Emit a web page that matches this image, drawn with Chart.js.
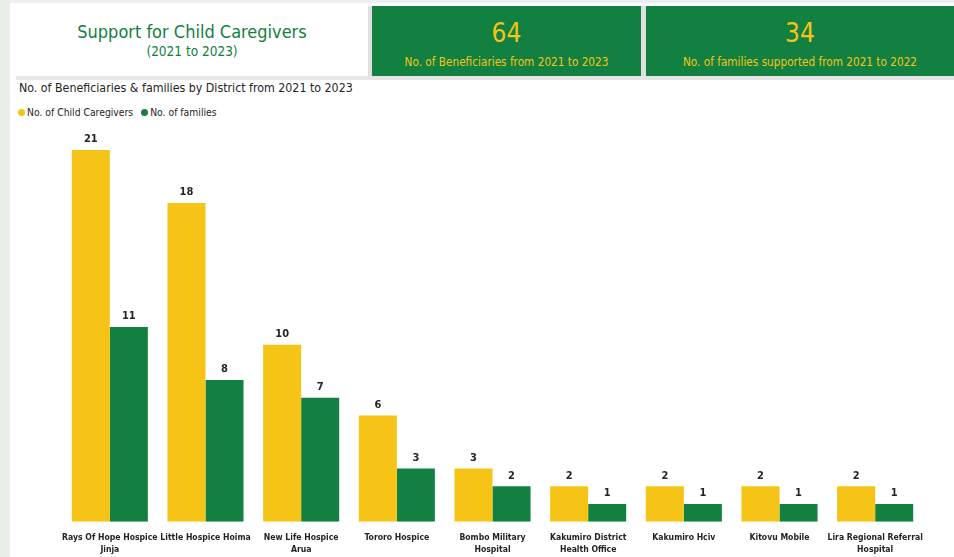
<!DOCTYPE html>
<html><head><meta charset="utf-8">
<script src="https://cdn.jsdelivr.net/npm/chart.js@4.4.1/dist/chart.umd.min.js"></script>
<style>
html,body{margin:0;padding:0;width:954px;height:557px;overflow:hidden;background:#e8eee8;font-family:"DejaVu Sans Condensed","Roboto",sans-serif;}
#panel{position:absolute;left:10px;top:0;width:944px;height:557px;background:#fff;}
#topline{position:absolute;left:10px;top:0;width:944px;height:3px;background:#eeeeee;}
#hdrline{position:absolute;left:16px;top:76px;width:938px;height:4px;background:#e6e6e6;}
#titlebox{position:absolute;left:16px;top:6px;width:352px;height:70px;background:#fff;color:#118040;text-align:center;}
#sep{position:absolute;left:368px;top:6px;width:4px;height:70px;background:#e0e0e0;}
#t1{position:absolute;top:15px;width:100%;font-size:18px;}
#t2{position:absolute;top:37px;width:100%;font-size:13.5px;}
.kpi{position:absolute;top:6px;height:70px;background:#118040;color:#f6c416;text-align:center;}
.kpi .v{position:absolute;top:12px;width:100%;font-size:26px;}
.kpi .l{position:absolute;top:49px;width:100%;font-size:11.7px;}
#gap{position:absolute;left:641px;top:6px;width:5px;height:70px;background:#e0e0e0;}
#sub{position:absolute;left:19px;top:81px;font-size:12.3px;color:#252423;}
#legend{position:absolute;left:18px;top:106px;font-size:10.3px;color:#252423;}
#legend span.d{display:inline-block;width:7px;height:7px;border-radius:50%;margin-right:2px;vertical-align:0px;}
#legend span.i{margin-right:8px;}
#wrap{position:absolute;left:10px;top:117px;width:944px;height:441px;}
</style></head><body>
<div id="panel"></div>
<div id="topline"></div>
<div id="titlebox"><div id="t1">Support for Child Caregivers</div><div id="t2">(2021 to 2023)</div></div>
<div id="sep"></div>
<div class="kpi" style="left:372px;width:269px;"><div class="v">64</div><div class="l">No. of Beneficiaries from 2021 to 2023</div></div>
<div id="gap"></div>
<div class="kpi" style="left:646px;width:308px;"><div class="v">34</div><div class="l">No. of families supported from 2021 to 2022</div></div>
<div id="hdrline"></div>
<div id="sub">No. of Beneficiaries &amp; families by District from 2021 to 2023</div>
<div id="legend"></div>
<div id="wrap"><canvas id="c"></canvas></div>
<script>
const categories = [
  ["Rays Of Hope Hospice","Jinja"],
  "Little Hospice Hoima",
  ["New Life Hospice","Arua"],
  "Tororo Hospice",
  ["Bombo Military","Hospital"],
  ["Kakumiro District","Health Office"],
  "Kakumiro Hciv",
  "Kitovu Mobile",
  ["Lira Regional Referral","Hospital"]
];
const seriesNames = ['No. of Child Caregivers', 'No. of families'];
const caregivers = [21, 18, 10, 6, 3, 2, 2, 2, 2];
const families = [11, 8, 7, 3, 2, 1, 1, 1, 1];
const colors = ['#f6c416', '#118040'];

const valueLabels = {
  id: 'valueLabels',
  afterDatasetsDraw(chart) {
    const ctx = chart.ctx;
    ctx.save();
    ctx.font = 'bold 11px "DejaVu Sans Condensed", sans-serif';
    ctx.fillStyle = '#252423';
    ctx.textAlign = 'center';
    ctx.textBaseline = 'bottom';
    chart.data.datasets.forEach((ds, i) => {
      chart.getDatasetMeta(i).data.forEach((bar, j) => {
        ctx.fillText(ds.data[j], bar.x, bar.y - 5);
      });
    });
    ctx.restore();
  }
};

const chart = new Chart(document.getElementById('c'), {
  type: 'bar',
  data: {
    labels: categories,
    datasets: [
      {label: seriesNames[0], data: caregivers, backgroundColor: colors[0]},
      {label: seriesNames[1], data: families, backgroundColor: colors[1]}
    ]
  },
  options: {
    responsive: true, maintainAspectRatio: false, animation: false,
    devicePixelRatio: 1,
    layout: {padding: {left: 52, right: 31, top: 10, bottom: 0}},
    datasets: {bar: {categoryPercentage: 0.795, barPercentage: 1.0}},
    plugins: {
      legend: {display: false},
      tooltip: {enabled: false}
    },
    scales: {
      x: {grid: {display: false}, border: {display: false},
        ticks: {color: '#252423', maxRotation: 0, autoSkip: false, padding: 3,
          font: {size: 8.6, weight: 'bold', family: '"DejaVu Sans Condensed", sans-serif', lineHeight: 1.3}}},
      y: {display: false, min: 0, max: 22.3}
    }
  },
  plugins: [valueLabels]
});

document.getElementById('legend').innerHTML = chart.data.datasets.map(ds =>
  '<span class="i"><span class="d" style="background:' + ds.backgroundColor + '"></span>' + ds.label + '</span>').join('');
</script>
</body></html>
